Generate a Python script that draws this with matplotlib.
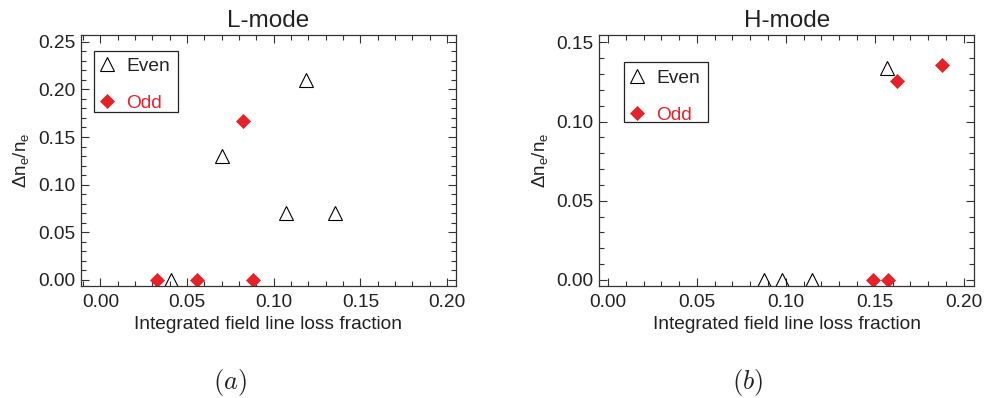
import matplotlib
matplotlib.use("Agg")
import matplotlib.pyplot as plt
from matplotlib.ticker import MultipleLocator
from matplotlib.lines import Line2D
from matplotlib.patches import Rectangle

plt.rcParams['font.family'] = ['Liberation Sans', 'DejaVu Sans']
plt.rcParams['mathtext.default'] = 'regular'

RED = '#e62129'

# L-mode data
l_even_x = [0.0406, 0.0702, 0.1071, 0.1187, 0.1352]
l_even_y = [0.000, 0.130, 0.070, 0.210, 0.070]
l_odd_x = [0.0326, 0.0558, 0.0822, 0.0882]
l_odd_y = [0.000, 0.000, 0.167, 0.000]

# H-mode data
h_even_x = [0.0876, 0.0979, 0.1147, 0.1570]
h_even_y = [0.000, 0.000, 0.000, 0.134]
h_odd_x = [0.1489, 0.1573, 0.1625, 0.1879]
h_odd_y = [0.000, 0.000, 0.1256, 0.1357]

titles = ['L-mode', 'H-mode']
panel_labels = [r'$\mathit{(a)}$', r'$\mathit{(b)}$']
xticks = [0.00, 0.05, 0.10, 0.15, 0.20]
l_yticks = [0.00, 0.05, 0.10, 0.15, 0.20, 0.25]
h_yticks = [0.00, 0.05, 0.10, 0.15]

W, H = 984, 398
fig = plt.figure(figsize=(W / 100, H / 100), dpi=100)

def frac_box(x0, x1, y0, y1):
    return [x0 / W, 1 - y1 / H, (x1 - x0) / W, (y1 - y0) / H]

ax1 = fig.add_axes(frac_box(81, 456, 35, 286))
ax2 = fig.add_axes(frac_box(599.3, 974.3, 35, 286))

panels = [
    (ax1, l_even_x, l_even_y, l_odd_x, l_odd_y, (-0.0112, 0.2051), (-0.0063, 0.257), l_yticks,
     (0.0464, 0.910), (0.0355, 0.6944, 0.2224, 0.243)),
    (ax2, h_even_x, h_even_y, h_odd_x, h_odd_y, (-0.0049, 0.206), (-0.0038, 0.1546), h_yticks,
     (0.0776, 0.8637), (0.0667, 0.6522, 0.2232, 0.2414)),
]

TRI_MS = 9.6
DIA_MS = 7.2

for i, (ax, ex, ey, ox, oy, xl, yl, yt, legpos, frame) in enumerate(panels):
    ax.plot(ox, oy, linestyle='none', marker='D', ms=DIA_MS, mfc=RED, mec=RED, mew=0.5)
    ax.plot(ex, ey, linestyle='none', marker='^', ms=TRI_MS, mfc='none', mec='black', mew=0.8)
    ax.set_xlim(*xl)
    ax.set_ylim(*yl)
    ax.set_xticks(xticks)
    ax.set_xticklabels([f'{v:.2f}' for v in xticks])
    ax.set_yticks(yt)
    ax.set_yticklabels([f'{v:.2f}' for v in yt])
    ax.xaxis.set_minor_locator(MultipleLocator(0.01))
    ax.yaxis.set_minor_locator(MultipleLocator(0.01))
    ax.tick_params(which='both', direction='in', top=True, right=True, colors='#333333',
                   labelcolor='#222222', labelsize=13.8, width=0.8)
    ax.tick_params(axis='x', which='both', pad=6)
    ax.tick_params(axis='y', which='both', pad=4)
    ax.tick_params(which='major', length=6)
    ax.tick_params(which='minor', length=3.5)
    for s in ax.spines.values():
        s.set_color('#333333')
        s.set_linewidth(0.9)
    ax.set_title(titles[i], fontsize=17.5, pad=6, color='#222222')
    ax.set_xlabel('Integrated field line loss fraction', fontsize=13.8, labelpad=3.5, color='#222222')
    ax.set_ylabel(r'$\Delta$n$_e$/n$_e$', fontsize=13.5, labelpad=5, color='#222222')

    # legend frame
    ax.add_patch(Rectangle(frame[:2], frame[2], frame[3], transform=ax.transAxes,
                           facecolor='white', edgecolor='#222222', linewidth=0.9, zorder=4))
    handles = [
        Line2D([], [], linestyle='none', marker='^', ms=TRI_MS, mfc='none', mec='black', mew=0.8),
        Line2D([], [], linestyle='none', marker='D', ms=DIA_MS, mfc=RED, mec=RED, mew=0.5),
    ]
    leg = ax.legend(handles, ['Even', 'Odd'], loc='upper left', bbox_to_anchor=legpos,
                    frameon=False, fontsize=13.8, labelspacing=1.02,
                    handlelength=0.9, handletextpad=0.54, borderpad=0, borderaxespad=0)
    leg.set_zorder(5)
    leg.get_texts()[0].set_color('#222222')
    leg.get_texts()[1].set_color(RED)

for lab, xc in zip(panel_labels, [230, 748]):
    fig.text(xc / W, 1 - 383 / H, lab, ha='center', va='center', fontsize=19,
             math_fontfamily='cm', color='#222222')

fig.savefig('out.png', dpi=100)
